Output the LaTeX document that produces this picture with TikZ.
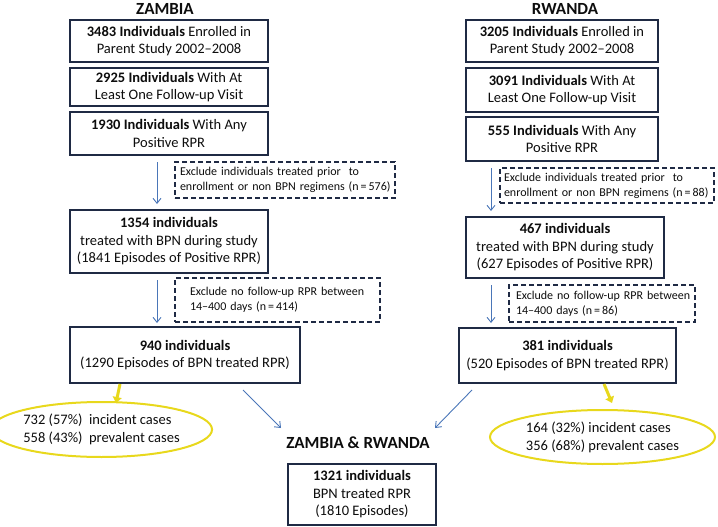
\documentclass[tikz,border=0pt]{standalone}
\usepackage{fontspec}
\setmainfont{Carlito}
\usetikzlibrary{shapes.geometric,arrows.meta}
\definecolor{navy}{HTML}{1F2A44}
\definecolor{arrblue}{HTML}{4A76B8}
\definecolor{yel}{HTML}{E8D81C}
\definecolor{txt}{HTML}{0D0D0D}
\tikzset{
  mainbox/.style={draw=navy,line width=2.4pt,fill=white,inner sep=0pt,align=center,font=\fontsize{14.5}{17.5}\selectfont,text=txt},
  exclbox/.style={draw=navy,line width=2pt,dash pattern=on 5pt off 3pt,inner sep=0pt,align=left,font=\fontsize{12}{15}\selectfont,text=txt},
  title/.style={font=\fontsize{17}{20}\selectfont\bfseries,text=txt},
  oval/.style={ellipse,draw=yel,line width=2pt,inner sep=0pt,align=left,font=\fontsize{14.5}{18}\selectfont,text=txt},
  flow/.style={draw=arrblue,line width=0.9pt,-{Straight Barb[length=5pt,width=8pt]}},
  yflow/.style={draw=yel,line width=3pt,-{Triangle[length=6pt,width=9pt]}},
}
\begin{document}
\begin{tikzpicture}[x=1pt,y=-1pt]
\useasboundingbox (0,0) rectangle (718,527);
% Zambia
\node[title] (zt) at (165,9) {ZAMBIA};
\node[mainbox,minimum width=198pt,minimum height=42pt] (zb1) at (169,41) {\textbf{3483 Individuals} Enrolled in\\ Parent Study 2002--2008};
\node[mainbox,minimum width=198pt,minimum height=38pt] (zb2) at (169,87) {\textbf{2925 Individuals} With At\\Least One Follow-up Visit};
\node[mainbox,minimum width=198pt,minimum height=43pt] (zb3) at (169,133.5) {\textbf{1930 Individuals} With Any\\Positive RPR};
\node[exclbox,minimum width=220pt,minimum height=36pt,text width=210pt] (zd1) at (285,180) {\mbox{Exclude individuals treated prior\ \ to}\\\mbox{enrollment or non BPN regimens (n\,=\,576)}};
\node[exclbox,minimum width=205pt,minimum height=44pt,text width=175pt] (zd2) at (277.5,300) {\mbox{Exclude no follow-up RPR between}\\\mbox{14--400 days (n\,=\,414)}};
\node[mainbox,minimum width=198pt,minimum height=63pt] (zb4) at (169,241.5) {\textbf{1354 individuals}\\treated with BPN during study\\(1841 Episodes of Positive RPR)};
\node[mainbox,minimum width=230pt,minimum height=56pt] (zb5) at (185,355) {\textbf{940 individuals}\\(1290 Episodes of BPN treated RPR)};
\node[oval,minimum width=197pt,minimum height=55pt] (ze) at (101.5,429.5) {732 (57\%)\ \ incident cases\\558 (43\%)\ \ prevalent cases};
% Rwanda
\node[title] (rt) at (565,9) {RWANDA};
\node[mainbox,minimum width=192pt,minimum height=42pt] (rb1) at (562,41) {\textbf{3205 Individuals} Enrolled in\\Parent Study 2002--2008};
\node[mainbox,minimum width=192pt,minimum height=44pt] (rb2) at (562,90) {\textbf{3091 Individuals} With At\\Least One Follow-up Visit};
\node[mainbox,minimum width=192pt,minimum height=44pt] (rb3) at (562,139) {\textbf{555 Individuals} With Any\\Positive RPR};
\node[exclbox,minimum width=214pt,minimum height=35pt,text width=206pt] (rd1) at (607,185.5) {\mbox{Exclude individuals treated prior\ \ to}\\\mbox{enrollment or non BPN regimens (n\,=\,88)}};
\node[mainbox,minimum width=198pt,minimum height=61pt] (rb4) at (565,247.5) {\textbf{467 individuals}\\treated with BPN during study\\(627 Episodes of Positive RPR)};
\node[exclbox,minimum width=186pt,minimum height=37pt,text width=172pt] (rd2) at (602,303.5) {\mbox{Exclude no follow-up RPR between}\\\mbox{14--400 days (n\,=\,86)}};
\node[mainbox,minimum width=217pt,minimum height=55pt] (rb5) at (567.5,355.5) {\textbf{381 individuals}\\(520 Episodes of BPN treated RPR)};
\node[oval,minimum width=225pt,minimum height=54pt] (re) at (602.5,437) {164 (32\%) incident cases\\356 (68\%) prevalent cases};
% Combined
\node[title] (ct) at (358,443) {ZAMBIA \& RWANDA};
\node[mainbox,minimum width=148pt,minimum height=61pt] (cb) at (362,494.5) {\textbf{1321 individuals}\\BPN treated RPR\\(1810 Episodes)};
% arrows
\coordinate (za1s) at (157,162);
\coordinate (za1e) at (157,204);
\coordinate (za2s) at (157,280);
\coordinate (za2e) at (157,323);
\coordinate (ra1s) at (491,168);
\coordinate (ra1e) at (491,211);
\coordinate (ra2s) at (491,285);
\coordinate (ra2e) at (491,323);
\draw[flow] (za1s) -- (za1e);
\draw[flow] (za2s) -- (za2e);
\draw[flow] (ra1s) -- (ra1e);
\draw[flow] (ra2s) -- (ra2e);
\coordinate (zcs) at (243,390);
\coordinate (zce) at (281,428);
\coordinate (rcs) at (472,390);
\coordinate (rce) at (435,428);
\draw[flow] (zcs) -- (zce);
\draw[flow] (rcs) -- (rce);
\coordinate (zys) at (120,384);
\coordinate (zye) at (116,403);
\coordinate (rys) at (604,384);
\coordinate (rye) at (612,403);
\draw[yflow] (zys) -- (zye);
\draw[yflow] (rys) -- (rye);
\end{tikzpicture}
\end{document}
